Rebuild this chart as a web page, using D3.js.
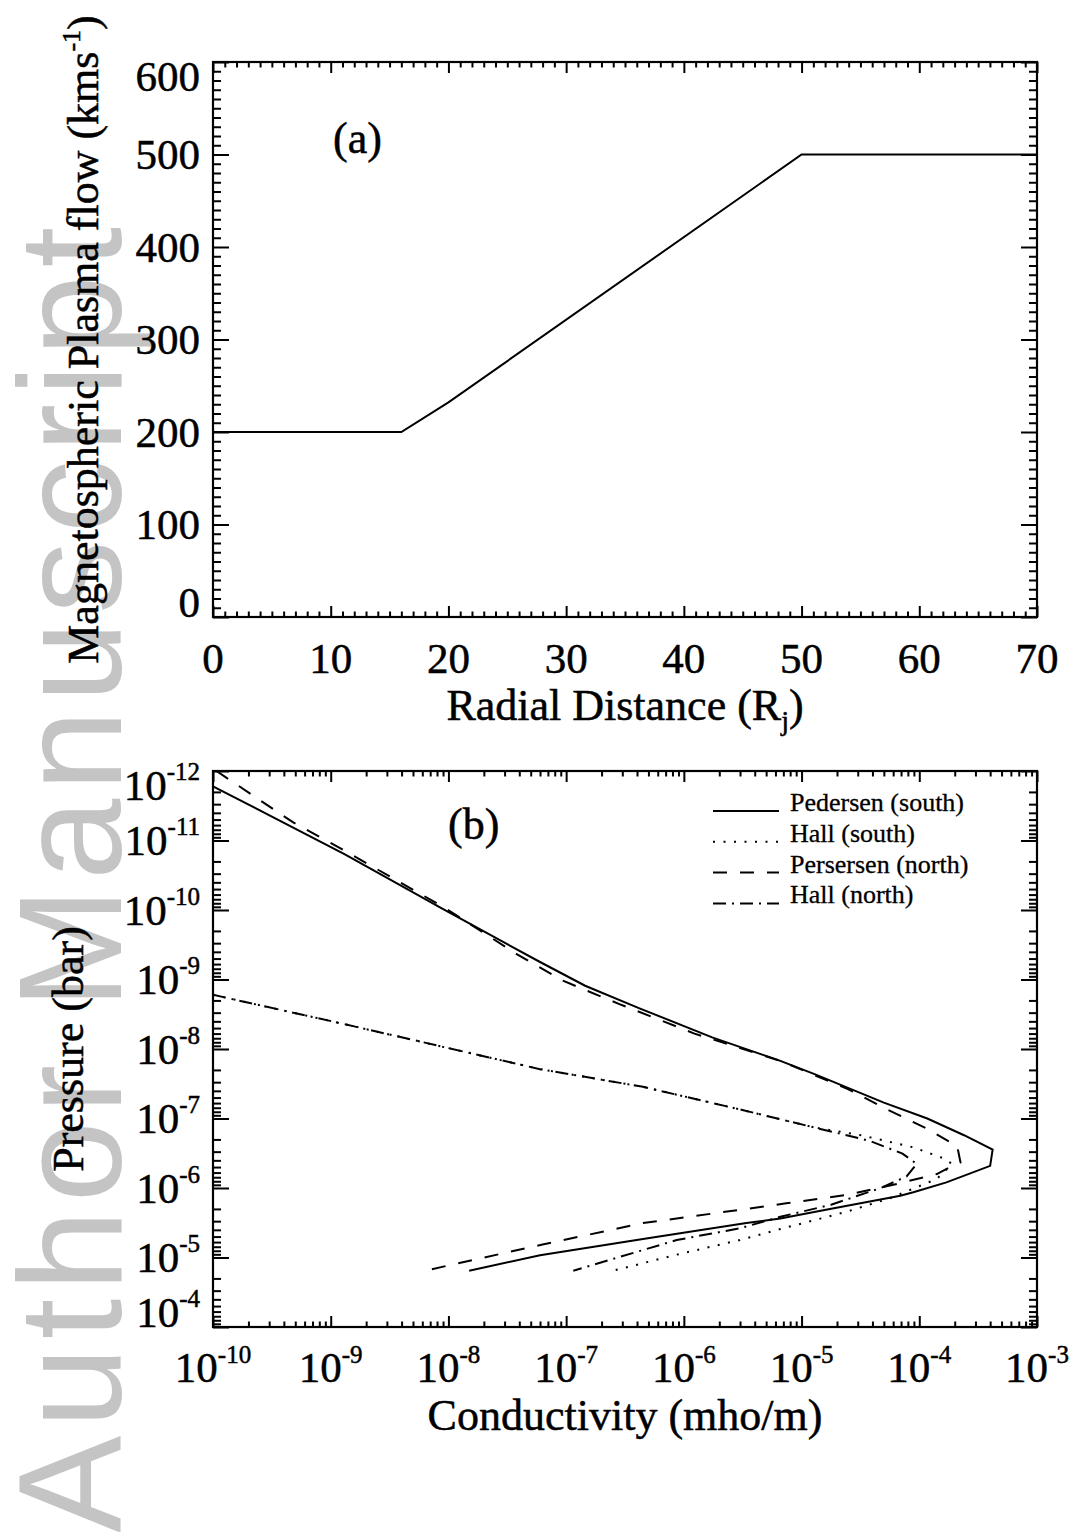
<!DOCTYPE html>
<html>
<head>
<meta charset="utf-8">
<script src="https://cdn.jsdelivr.net/npm/d3@7"></script>
<style>
  body { margin: 0; background: #fff; }
  svg { display: block; }
  text.serif { font-family: "Liberation Serif", "Times New Roman", serif; fill: #000; stroke: #000; stroke-width: 0.5px; }
</style>
</head>
<body>
<div id="chart"></div>
<script>
// ---- panel (a): plasma flow vs radial distance ----
const radialDistance = [0, 16, 20, 50, 70];
const plasmaFlow = [200, 200, 232, 500, 500];
const xTicksA = [0, 10, 20, 30, 40, 50, 60, 70];
const yTicksA = [0, 100, 200, 300, 400, 500, 600];

// ---- panel (b): conductivity (mho/m) vs pressure (bar) ----
const pedSouthSigma = [1.0e-10, 1.32e-9, 9.1e-9, 6.0e-8, 1.45e-7, 4.2e-7, 1.74e-6, 6.6e-6, 1.29e-5, 5.0e-5, 1.17e-4, 2.4e-4, 4.2e-4, 4.0e-4, 1.7e-4, 8.9e-5, 6.9e-5, 1.74e-5, 6.6e-6, 3.4e-6, 4.5e-7, 6.0e-8, 1.5e-8];
const pedSouthP     = [1.66e-12, 1.58e-11, 9.8e-11, 5.6e-10, 1.23e-9, 2.6e-9, 6.8e-9, 1.48e-8, 2.3e-8, 5.9e-8, 1.0e-7, 1.74e-7, 2.8e-7, 4.8e-7, 8.3e-7, 1.15e-6, 1.29e-6, 2.0e-6, 2.75e-6, 3.2e-6, 5.4e-6, 9.3e-6, 1.55e-5];

const hallSouthSigma = [1.0e-10, 1.32e-9, 1.95e-8, 6.0e-8, 4.5e-7, 3.2e-6, 1.29e-5, 3.2e-5, 8.9e-5, 1.58e-4, 1.9e-4, 1.41e-4, 5.6e-5, 2.4e-5, 6.6e-6, 3.0e-6, 8.7e-7, 2.5e-7];
const hallSouthP     = [1.66e-9, 4.4e-9, 1.26e-8, 1.95e-8, 3.5e-8, 7.6e-8, 1.35e-7, 1.74e-7, 2.6e-7, 3.7e-7, 4.5e-7, 7.4e-7, 1.41e-6, 2.2e-6, 3.9e-6, 5.6e-6, 9.1e-6, 1.55e-5];

const pedNorthSigma = [1.07e-10, 4.8e-10, 1.32e-9, 9.1e-9, 3.8e-8, 9.5e-8, 2.8e-7, 1.23e-6, 2.8e-6, 6.6e-6, 2.5e-5, 4.9e-5, 1.17e-4, 2.1e-4, 2.24e-4, 1.82e-4, 1.41e-4, 6.5e-5, 2.4e-5, 7.4e-6, 3.4e-6, 4.5e-7, 6.3e-8, 6.3e-9];
const pedNorthP     = [1.0e-12, 5.5e-12, 1.41e-11, 9.1e-11, 4.3e-10, 1.05e-9, 2.24e-9, 6.0e-9, 9.3e-9, 1.48e-8, 3.8e-8, 6.9e-8, 1.41e-7, 2.5e-7, 4.3e-7, 5.0e-7, 6.3e-7, 8.7e-7, 1.26e-6, 1.66e-6, 2.0e-6, 3.2e-6, 6.5e-6, 1.55e-5];

const hallNorthSigma = [1.0e-10, 1.32e-9, 1.95e-8, 6.0e-8, 4.5e-7, 3.2e-6, 1.29e-5, 3.8e-5, 7.2e-5, 9.5e-5, 7.8e-5, 4.7e-5, 1.78e-5, 6.6e-6, 3.0e-6, 8.7e-7, 1.15e-7];
const hallNorthP     = [1.66e-9, 4.4e-9, 1.26e-8, 1.95e-8, 3.5e-8, 7.6e-8, 1.35e-7, 2.1e-7, 3.2e-7, 4.5e-7, 6.8e-7, 1.0e-6, 1.74e-6, 2.6e-6, 3.8e-6, 5.6e-6, 1.55e-5];

const xExpB = [-10, -9, -8, -7, -6, -5, -4, -3];
const yExpB = [-12, -11, -10, -9, -8, -7, -6, -5, -4];

const seriesNames = ['Pedersen (south)', 'Hall (south)', 'Persersen (north)', 'Hall (north)'];

// line styles for the four series
const dashes = ['none', '2,8.5', '14,13', '13,6,2,6'];

const W = 1078, H = 1532;
const svg = d3.select('#chart').append('svg')
    .attr('width', W)
    .attr('height', H);

// grey watermark behind everything
svg.append('text')
    .attr('transform', 'translate(121,1533) rotate(-90)')
    .style('font-family', '"Liberation Sans", Arial, sans-serif')
    .style('fill', '#c4c4c4')
    .attr('font-size', 146)
    .attr('textLength', 1306)
    .attr('lengthAdjust', 'spacing')
    .text('Author Manuscript');

const pa = { left: 213, right: 1037, top: 62, bottom: 617 };
const pb = { left: 213, right: 1037, top: 771, bottom: 1327 };

const xA = d3.scaleLinear().domain([0, 70]).range([pa.left, pa.right]);
const yA = d3.scaleLinear().domain([0, 600]).range([pa.bottom, pa.top]);
const xB = d3.scaleLog().domain([1e-10, 1e-3]).range([pb.left, pb.right]);
const yB = d3.scaleLog().domain([1e-12, 1e-4]).range([pb.top, pb.bottom]);

const TICK_FONT = 43;
const HALF_DIGIT = 14.7;

// inward ticks on all four sides
function drawTicks(p, xs, ys, xMajor, xMinor, yMajor, yMinor) {
    const sets = [
        [d3.axisBottom, xs, `translate(0,${p.bottom})`, xMajor, xMinor, 11],
        [d3.axisTop, xs, `translate(0,${p.top})`, xMajor, xMinor, 11],
        [d3.axisLeft, ys, `translate(${p.left},0)`, yMajor, yMinor, 16],
        [d3.axisRight, ys, `translate(${p.right},0)`, yMajor, yMinor, 16]
    ];
    sets.forEach(([fn, sc, tr, major, minor, len]) => {
        [[major, len], [minor, len / 2]].forEach(([vals, l]) => {
            const g = svg.append('g')
                .attr('transform', tr)
                .call(fn(sc).tickValues(vals).tickSize(-l).tickFormat(''));
            g.select('.domain').remove();
            g.selectAll('.tick line').attr('stroke', '#000').attr('stroke-width', 2);
        });
    });
    svg.append('rect')
        .attr('x', p.left).attr('y', p.top)
        .attr('width', p.right - p.left).attr('height', p.bottom - p.top)
        .attr('fill', 'none').attr('stroke', '#000').attr('stroke-width', 2.2);
}

function labelBaseline(py, p) {
    const c = Math.min(Math.max(py, p.top + HALF_DIGIT), p.bottom - HALF_DIGIT);
    return c + HALF_DIGIT;
}

// ================= panel (a) =================
const minorXA = d3.range(0, 71, 1).filter(v => v % 10 !== 0);
const minorYA = d3.range(0, 601, 10).filter(v => v % 100 !== 0);
drawTicks(pa, xA, yA, xTicksA, minorXA, yTicksA, minorYA);

svg.append('path')
    .datum(radialDistance.map((d, i) => [d, plasmaFlow[i]]))
    .attr('fill', 'none')
    .attr('stroke', '#000')
    .attr('stroke-width', 2)
    .attr('d', d3.line().x(d => xA(d[0])).y(d => yA(d[1])));

svg.append('g').selectAll('text')
    .data(xTicksA)
    .enter().append('text')
    .attr('class', 'serif')
    .attr('x', d => xA(d))
    .attr('y', 673)
    .attr('text-anchor', 'middle')
    .attr('font-size', TICK_FONT)
    .text(d => d);

svg.append('g').selectAll('text')
    .data(yTicksA)
    .enter().append('text')
    .attr('class', 'serif')
    .attr('x', 200)
    .attr('y', d => labelBaseline(yA(d), pa))
    .attr('text-anchor', 'end')
    .attr('font-size', TICK_FONT)
    .text(d => d);

const tA = svg.append('text')
    .attr('class', 'serif')
    .attr('x', (pa.left + pa.right) / 2)
    .attr('y', 720)
    .attr('text-anchor', 'middle')
    .attr('font-size', 44);
tA.append('tspan').text('Radial Distance (R');
tA.append('tspan').attr('font-size', 28).attr('dy', 10).text('j');
tA.append('tspan').attr('dy', -10).text(')');

const yTitleA = svg.append('text')
    .attr('class', 'serif')
    .attr('transform', `translate(98,${(pa.top + pa.bottom) / 2}) rotate(-90)`)
    .attr('text-anchor', 'middle')
    .attr('font-size', 44);
yTitleA.append('tspan').text('Magnetospheric Plasma flow (kms');
yTitleA.append('tspan').attr('font-size', 26).attr('dy', -18).text('-1');
yTitleA.append('tspan').attr('dy', 18).text(')');

svg.append('text')
    .attr('class', 'serif')
    .attr('x', xA(10.2))
    .attr('y', 153)
    .attr('font-size', 44)
    .text('(a)');

// ================= panel (b) =================
const logMinor = (lo, hi) => {
    const out = [];
    for (let e = lo; e < hi; e++) {
        for (let m = 2; m <= 9; m++) out.push(m * Math.pow(10, e));
    }
    return out;
};
drawTicks(pb, xB, yB,
    xExpB.map(e => Math.pow(10, e)), logMinor(-10, -3),
    yExpB.map(e => Math.pow(10, e)), logMinor(-12, -4));

svg.append('clipPath').attr('id', 'clipB')
    .append('rect')
    .attr('x', pb.left).attr('y', pb.top)
    .attr('width', pb.right - pb.left).attr('height', pb.bottom - pb.top);

const curves = [
    [pedSouthSigma, pedSouthP],
    [hallSouthSigma, hallSouthP],
    [pedNorthSigma, pedNorthP],
    [hallNorthSigma, hallNorthP]
];
const lineB = d3.line().x(d => xB(d[0])).y(d => yB(d[1]));

svg.append('g')
    .attr('clip-path', 'url(#clipB)')
    .selectAll('path')
    .data(curves)
    .enter().append('path')
    .attr('d', c => lineB(c[0].map((s, i) => [s, c[1][i]])))
    .attr('fill', 'none')
    .attr('stroke', '#000')
    .attr('stroke-width', 2)
    .attr('stroke-dasharray', (c, i) => dashes[i]);

// x tick labels: 10 with superscript exponent
const xLab = svg.append('g').selectAll('text')
    .data(xExpB)
    .enter().append('text')
    .attr('class', 'serif')
    .attr('x', d => xB(Math.pow(10, d)))
    .attr('y', 1382)
    .attr('text-anchor', 'middle')
    .attr('font-size', TICK_FONT);
xLab.append('tspan').text('10');
xLab.append('tspan').attr('font-size', 25).attr('dy', -19).text(d => d);

const yLab = svg.append('g').selectAll('text')
    .data(yExpB)
    .enter().append('text')
    .attr('class', 'serif')
    .attr('x', 200)
    .attr('y', d => labelBaseline(yB(Math.pow(10, d)), pb))
    .attr('text-anchor', 'end')
    .attr('font-size', TICK_FONT);
yLab.append('tspan').text('10');
yLab.append('tspan').attr('font-size', 25).attr('dy', -20).text(d => d);

svg.append('text')
    .attr('class', 'serif')
    .attr('x', (pb.left + pb.right) / 2)
    .attr('y', 1430)
    .attr('text-anchor', 'middle')
    .attr('font-size', 44)
    .text('Conductivity (mho/m)');

svg.append('text')
    .attr('class', 'serif')
    .attr('transform', `translate(83,${(pb.top + pb.bottom) / 2}) rotate(-90)`)
    .attr('text-anchor', 'middle')
    .attr('font-size', 44)
    .text('Pressure (bar)');

svg.append('text')
    .attr('class', 'serif')
    .attr('x', 448)
    .attr('y', 839)
    .attr('font-size', 44)
    .text('(b)');

// legend
const legend = svg.append('g');
const legendRows = legend.selectAll('g')
    .data(seriesNames)
    .enter().append('g')
    .attr('transform', (d, i) => `translate(0,${811 + i * 30.8})`);
legendRows.append('line')
    .attr('x1', 713).attr('x2', 779)
    .attr('y1', 0).attr('y2', 0)
    .attr('stroke', '#000')
    .attr('stroke-width', 2)
    .attr('stroke-dasharray', (d, i) => dashes[i]);
legendRows.append('text')
    .attr('class', 'serif')
    .style('stroke-width', '0.3px')
    .attr('x', 790)
    .attr('y', 0)
    .attr('font-size', 26)
    .text(d => d);
</script>
</body>
</html>
